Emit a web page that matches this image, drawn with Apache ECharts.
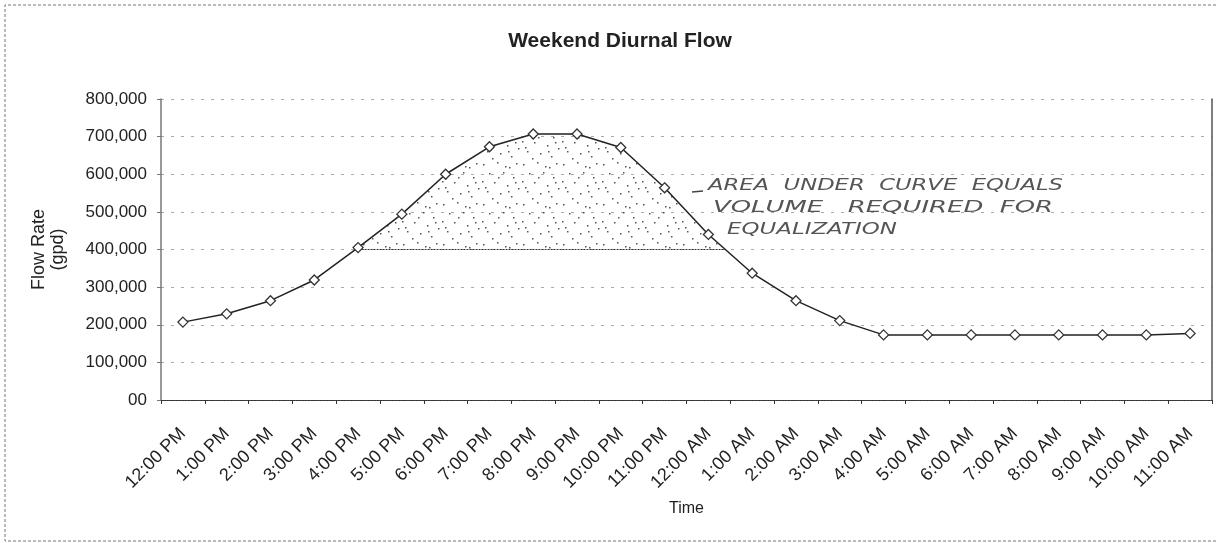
<!DOCTYPE html>
<html>
<head>
<meta charset="utf-8">
<title>Weekend Diurnal Flow</title>
<script src="https://cdn.jsdelivr.net/npm/echarts@6/dist/echarts.min.js"></script>
<style>
  html, body { margin: 0; padding: 0; background: #fff; }
  #chart { width: 1223px; height: 543px; }
</style>
</head>
<body>
<div id="chart"></div>
<script>
// Hourly weekend flow, starting at noon
const times = [
  '12:00 PM', '1:00 PM', '2:00 PM', '3:00 PM', '4:00 PM', '5:00 PM',
  '6:00 PM', '7:00 PM', '8:00 PM', '9:00 PM', '10:00 PM', '11:00 PM',
  '12:00 AM', '1:00 AM', '2:00 AM', '3:00 AM', '4:00 AM', '5:00 AM',
  '6:00 AM', '7:00 AM', '8:00 AM', '9:00 AM', '10:00 AM', '11:00 AM'
];
const flowRate = [
  207000, 229000, 264000, 319000, 405000, 494000,
  600000, 673000, 707000, 707000, 671000, 564000,
  440000, 337000, 264000, 211000, 173000, 173000,
  173000, 173000, 173000, 173000, 173000, 177000
];
// Equalization threshold: the shaded area lies between this level and the curve
const equalizationLevel = 400000;
const yTickLabels = ['00', '100,000', '200,000', '300,000', '400,000', '500,000', '600,000', '700,000', '800,000'];
const noteLines = ['AREA  UNDER  CURVE  EQUALS', 'VOLUME   REQUIRED  FOR', 'EQUALIZATION'];

// Sparse stipple texture for the shaded volume
function makeStipple() {
  const c = document.createElement('canvas');
  c.width = 40; c.height = 40;
  const ctx = c.getContext('2d');
  ctx.fillStyle = 'rgba(40,40,40,0.8)';
  const dots = [
    [3,4],[17,2],[29,7],[36,3],[9,13],[23,12],[33,17],[2,21],[14,22],[27,25],
    [38,28],[7,31],[20,33],[31,36],[12,38],[25,6],[5,27],[35,22],[18,17],[28,31]
  ];
  dots.forEach(function (d) { ctx.fillRect(d[0], d[1], 1.5, 1.5); });
  return c;
}
const stipple = makeStipple();

const chart = echarts.init(document.getElementById('chart'), null, { renderer: 'canvas' });

function renderVolume(params, api) {
  const pts = [];
  const base = equalizationLevel;
  const px = flowRate.map(function (v, i) { return api.coord([i, v]); });
  for (let i = 0; i < flowRate.length; i++) {
    const v = flowRate[i];
    if (i > 0) {
      const pv = flowRate[i - 1];
      if ((pv < base && v >= base) || (pv >= base && v < base)) {
        const t = (base - pv) / (v - pv);
        const a = px[i - 1], b = px[i];
        pts.push([a[0] + (b[0] - a[0]) * t, a[1] + (b[1] - a[1]) * t]);
      }
    }
    if (v >= base) pts.push(px[i]);
  }
  if (pts.length < 2) return null;
  const first = pts[0], last = pts[pts.length - 1];
  const baseY = api.coord([0, base])[1];
  const poly = pts.concat([[last[0], baseY], [first[0], baseY]]);
  return {
    type: 'group',
    children: [
      {
        type: 'polygon',
        shape: { points: poly },
        style: { fill: { image: stipple, repeat: 'repeat' }, stroke: null }
      },
      {
        type: 'line',
        shape: { x1: first[0], y1: baseY, x2: last[0], y2: baseY },
        style: { stroke: '#333', lineWidth: 1, lineDash: [2, 1] }
      }
    ]
  };
}

const font = '"Liberation Sans", Arial, sans-serif';

const option = {
  backgroundColor: '#ffffff',
  animation: false,
  grid: { left: 161, right: 11, top: 99, bottom: 143, containLabel: false },
  xAxis: [
    {
      type: 'category',
      data: times,
      boundaryGap: true,
      position: 'bottom',
      axisLine: { lineStyle: { color: '#333', width: 1, type: [2, 1] } },
      axisTick: { show: true, length: 4, lineStyle: { color: '#333' } },
      axisLabel: {
        rotate: 45, fontSize: 18, color: '#222', fontFamily: font,
        margin: 31, interval: 0
      },
      splitLine: { show: false },
      name: 'Time',
      nameLocation: 'middle',
      nameGap: 101,
      nameTextStyle: { fontSize: 16, color: '#222', fontFamily: font }
    },
    {
      type: 'category',
      data: times,
      position: 'top',
      axisLine: { lineStyle: { color: '#333', width: 1, type: [2, 1] } },
      axisTick: { show: false },
      axisLabel: { show: false },
      splitLine: { show: false }
    }
  ],
  yAxis: [
    {
      type: 'value',
      min: 0,
      max: 800000,
      interval: 100000,
      axisLine: { show: true, lineStyle: { color: '#777', width: 1.5 } },
      axisTick: { show: true, length: 4, lineStyle: { color: '#777' } },
      axisLabel: {
        fontSize: 17, color: '#222', fontFamily: font, margin: 14,
        formatter: function (v) { return yTickLabels[Math.round(v / 100000)]; }
      },
      splitLine: { show: true, lineStyle: { color: '#aaa', width: 1, type: [3, 7] } },
      name: 'Flow Rate\n(gpd)',
      nameLocation: 'middle',
      nameRotate: 90,
      nameGap: 93,
      nameTextStyle: { fontSize: 18, color: '#222', fontFamily: font, lineHeight: 19 }
    },
    {
      type: 'value',
      position: 'right',
      min: 0,
      max: 800000,
      interval: 100000,
      axisLine: { show: true, lineStyle: { color: '#555', width: 1.5 } },
      axisTick: { show: false },
      axisLabel: { show: false },
      splitLine: { show: false }
    }
  ],
  series: [
    {
      type: 'custom',
      name: 'Equalization volume',
      xAxisIndex: 0,
      yAxisIndex: 0,
      data: [[0, equalizationLevel]],
      renderItem: renderVolume,
      silent: true,
      z: 1
    },
    {
      type: 'line',
      name: 'Flow Rate',
      data: flowRate,
      xAxisIndex: 0,
      yAxisIndex: 0,
      symbol: 'diamond',
      symbolSize: 10,
      showAllSymbol: true,
      lineStyle: { color: '#222', width: 1.5 },
      itemStyle: { color: '#fff', borderColor: '#333', borderWidth: 1.3 },
      z: 3
    }
  ],
  graphic: [
    {
      type: 'text',
      x: 620, y: 41,
      style: {
        text: 'Weekend Diurnal Flow',
        font: 'bold 21px ' + font,
        fill: '#222',
        textAlign: 'center',
        textVerticalAlign: 'middle'
      }
    },
    {
      type: 'polyline',
      shape: { points: [[1216, 5], [5, 5], [5, 541], [1216, 541]] },
      style: { stroke: '#777', lineWidth: 1, lineDash: [3, 2], fill: null }
    },
    {
      type: 'line',
      shape: { x1: 692, y1: 192, x2: 703, y2: 191 },
      style: { stroke: '#444', lineWidth: 1.5 }
    }
  ]
};

// Handwritten note beside the curve
const noteLayout = [
  { x: 708, y: 186, w: 355 },
  { x: 713, y: 208, w: 340 },
  { x: 727, y: 230, w: 170 }
];
const noteFont = 'italic 16px "DejaVu Sans", sans-serif';
const mctx = document.createElement('canvas').getContext('2d');
mctx.font = noteFont;
noteLines.forEach(function (line, i) {
  const L = noteLayout[i];
  const w = mctx.measureText(line).width || L.w;
  option.graphic.push({
    type: 'text',
    x: L.x, y: L.y,
    scaleX: L.w / w,
    style: {
      text: line,
      font: noteFont,
      fill: '#555',
      textVerticalAlign: 'middle'
    },
    z: 10
  });
});

chart.setOption(option);
</script>
</body>
</html>
